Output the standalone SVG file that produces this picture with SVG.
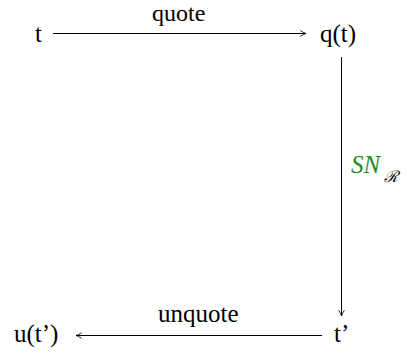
<svg xmlns="http://www.w3.org/2000/svg" width="407" height="356" viewBox="0 0 407 356">
<defs>
<marker id="ah" viewBox="0 0 10 10" refX="9" refY="5" markerWidth="8" markerHeight="8" markerUnits="userSpaceOnUse" orient="auto">
<path d="M2,1.5 Q6,4.2 9,5 Q6,5.8 2,8.5" fill="none" stroke="#000" stroke-width="1.1"/>
</marker>
</defs>
<rect width="407" height="356" fill="#fff"/>
<g id="connectors" stroke="#000" stroke-width="1" fill="none">
<line marker-end="url(#ah)" x1="53" y1="33.5" x2="306" y2="33.5"/>
<line marker-end="url(#ah)" x1="341.5" y1="57" x2="341.5" y2="316"/>
<line marker-end="url(#ah)" x1="322" y1="335.5" x2="76" y2="335.5"/>
</g>
<g id="labels" stroke="none">
<text x="152" y="21" font-family="Liberation Serif, serif" font-size="24" fill="#000">quote</text>
<text x="351" y="173" font-family="Liberation Serif, serif" font-size="25" font-style="italic" fill="#1e8c1e">SN</text>
<text x="384" y="182" font-family="DejaVu Serif, serif" font-size="16" font-style="italic" fill="#000">ℛ</text>
<text x="158" y="322" font-family="Liberation Serif, serif" font-size="25" fill="#000">unquote</text>
</g>
<g id="n-t"><text x="35" y="42" font-family="Liberation Serif, serif" font-size="25" fill="#000">t</text></g>
<g id="n-qt"><text x="320" y="42" font-family="Liberation Serif, serif" font-size="25" fill="#000">q(t)</text></g>
<g id="n-tp"><text x="334" y="342" font-family="Liberation Serif, serif" font-size="25" fill="#000">t’</text></g>
<g id="n-utp"><text x="14" y="342" font-family="Liberation Serif, serif" font-size="25" fill="#000">u(t’)</text></g>
</svg>
